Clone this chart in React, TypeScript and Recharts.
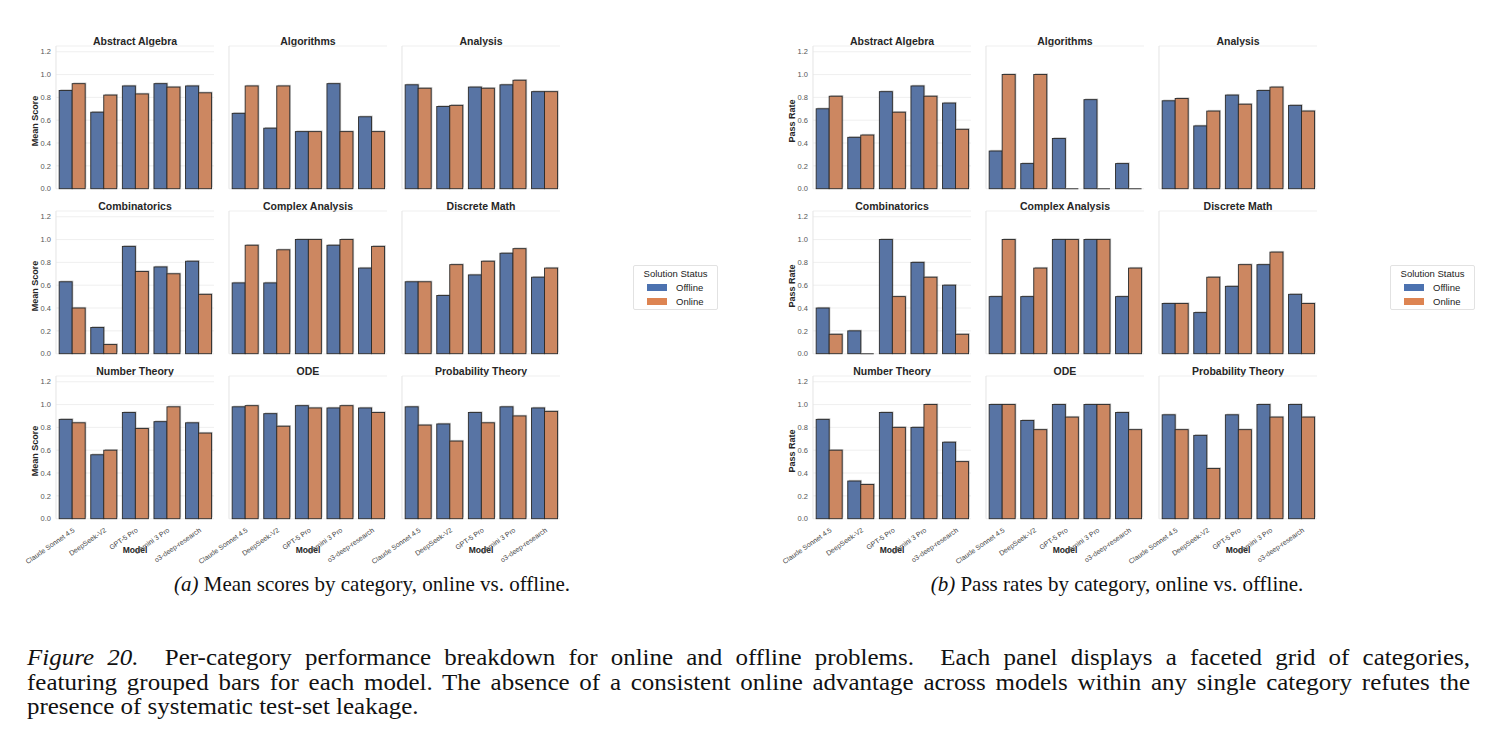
import React from 'react';
import { BarChart, Bar, XAxis, YAxis, CartesianGrid } from 'recharts';

const models = ['Claude Sonnet 4.5', 'DeepSeek-V2', 'GPT-5 Pro', 'Gemini 3 Pro', 'o3-deep-research'];
const categories = [
  'Abstract Algebra', 'Algorithms', 'Analysis',
  'Combinatorics', 'Complex Analysis', 'Discrete Math',
  'Number Theory', 'ODE', 'Probability Theory',
];
const yTicks = [0, 0.2, 0.4, 0.6, 0.8, 1.0, 1.2];

// one row per category, one value per model
const meanOffline = [
  [0.86, 0.67, 0.90, 0.92, 0.90],
  [0.66, 0.53, 0.50, 0.92, 0.63],
  [0.91, 0.72, 0.89, 0.91, 0.85],
  [0.63, 0.23, 0.94, 0.76, 0.81],
  [0.62, 0.62, 1.00, 0.95, 0.75],
  [0.63, 0.51, 0.69, 0.88, 0.67],
  [0.87, 0.56, 0.93, 0.85, 0.84],
  [0.98, 0.92, 0.99, 0.97, 0.97],
  [0.98, 0.83, 0.93, 0.98, 0.97],
];
const meanOnline = [
  [0.92, 0.82, 0.83, 0.89, 0.84],
  [0.90, 0.90, 0.50, 0.50, 0.50],
  [0.88, 0.73, 0.88, 0.95, 0.85],
  [0.40, 0.08, 0.72, 0.70, 0.52],
  [0.95, 0.91, 1.00, 1.00, 0.94],
  [0.63, 0.78, 0.81, 0.92, 0.75],
  [0.84, 0.60, 0.79, 0.98, 0.75],
  [0.99, 0.81, 0.97, 0.99, 0.93],
  [0.82, 0.68, 0.84, 0.90, 0.94],
];
const passOffline = [
  [0.70, 0.45, 0.85, 0.90, 0.75],
  [0.33, 0.22, 0.44, 0.78, 0.22],
  [0.77, 0.55, 0.82, 0.86, 0.73],
  [0.40, 0.20, 1.00, 0.80, 0.60],
  [0.50, 0.50, 1.00, 1.00, 0.50],
  [0.44, 0.36, 0.59, 0.78, 0.52],
  [0.87, 0.33, 0.93, 0.80, 0.67],
  [1.00, 0.86, 1.00, 1.00, 0.93],
  [0.91, 0.73, 0.91, 1.00, 1.00],
];
const passOnline = [
  [0.81, 0.47, 0.67, 0.81, 0.52],
  [1.00, 1.00, 0.00, 0.00, 0.00],
  [0.79, 0.68, 0.74, 0.89, 0.68],
  [0.17, 0.00, 0.50, 0.67, 0.17],
  [1.00, 0.75, 1.00, 1.00, 0.75],
  [0.44, 0.67, 0.78, 0.89, 0.44],
  [0.60, 0.30, 0.80, 1.00, 0.50],
  [1.00, 0.78, 0.89, 1.00, 0.78],
  [0.78, 0.44, 0.78, 0.89, 0.89],
];

const series = [
  { key: 'offline', name: 'Offline', fill: '#5874a4', legend: '#4c72b0' },
  { key: 'online', name: 'Online', fill: '#cc8761', legend: '#dd8452' },
];

const SANS = '"Liberation Sans", Arial, sans-serif';
const SERIF = '"Liberation Serif", "Times New Roman", serif';

// layout
const PLOT_W = 158;
const PLOT_H = (137 / 1.2) * 1.25;
const COL_X = [56, 229, 402];
const ROW_BOTTOM = [189, 354, 519];
const FIG_SHIFT = 757;
const Y_AXIS_W = 30;
const LEFT_ROOM = 56;
const TOP_PAD = 4;
const CAP_STRETCH = 1.04;

const ShadowBar = (props: any) => {
  const { x, y, width, height, fill } = props;
  if (!height || height < 0.5) {
    return <line x1={x} x2={x + width} y1={y} y2={y} stroke="#555" strokeWidth={1.2} />;
  }
  return (
    <g>
      <rect x={x + 1.2} y={y - 1.2} width={width} height={height} fill="#000" fillOpacity={0.22} />
      <rect x={x} y={y} width={width} height={height} fill={fill} stroke="#2a2a2a" strokeWidth={0.9} />
    </g>
  );
};

const ModelTick = (props: any) => {
  const { x, y, payload } = props;
  return (
    <text
      transform={`translate(${x + 1},${y + 1}) rotate(-35)`}
      textAnchor="end"
      dy="0.6em"
      fontSize={7}
      fill="#444"
      fontFamily={SANS}
    >
      {payload.value}
    </text>
  );
};

function Panel({ title, offline, online, col, row, shift, yLabel }: any) {
  const data = models.map((m, i) => ({ model: m, offline: offline[i], online: online[i] }));
  const first = col === 0;
  const bottom = row === 2;
  const yW = first ? Y_AXIS_W : 1;
  const xH = bottom ? 48 : 0;
  const bPad = bottom ? 0 : 8;
  const plotLeft = COL_X[col] + shift;
  const plotTop = ROW_BOTTOM[row] - PLOT_H;
  const width = LEFT_ROOM + PLOT_W + 4;
  const height = TOP_PAD + PLOT_H + xH + bPad;
  return (
    <>
      <div
        style={{
          position: 'absolute', left: plotLeft + PLOT_W / 2 - 100, width: 200, top: ROW_BOTTOM[row] - 155,
          textAlign: 'center', fontFamily: SANS, fontWeight: 700, fontSize: 10.5, color: '#262626', lineHeight: '14px',
        }}
      >
        {title}
      </div>
      {first && (
        <div
          style={{
            position: 'absolute', left: shift + 35 - 50, top: ROW_BOTTOM[row] - 68.5 - 7, width: 100,
            textAlign: 'center', transform: 'rotate(-90deg)', fontFamily: SANS, fontWeight: 700,
            fontSize: 9, color: '#262626', lineHeight: '14px',
          }}
        >
          {yLabel}
        </div>
      )}
      {bottom && (
        <div
          style={{
            position: 'absolute', left: plotLeft + PLOT_W / 2 - 50, width: 100, top: ROW_BOTTOM[row] + 25,
            textAlign: 'center', fontFamily: SANS, fontWeight: 700, fontSize: 8.5, color: '#262626', lineHeight: '12px',
          }}
        >
          Model
        </div>
      )}
      <div style={{ position: 'absolute', left: plotLeft - LEFT_ROOM, top: plotTop - TOP_PAD }}>
        <BarChart
          width={width}
          height={height}
          data={data}
          margin={{ top: TOP_PAD, right: 4, bottom: bPad, left: LEFT_ROOM - yW }}
          barCategoryGap="10%"
          barGap={0}
        >
          <CartesianGrid vertical={false} stroke="#ebebeb" strokeWidth={0.8} />
          <XAxis
            dataKey="model"
            hide={!bottom}
            height={xH}
            interval={0}
            tickLine={false}
            axisLine={false}
            tick={<ModelTick />}
          />
          <YAxis
            width={yW}
            domain={[0, 1.25]}
            ticks={yTicks}
            interval={0}
            tickSize={2}
            tickMargin={3}
            tick={first ? { fontSize: 7.5, fill: '#555', fontFamily: SANS } : false}
            tickFormatter={(v: number) => v.toFixed(1)}
            tickLine={false}
            axisLine={{ stroke: '#e4e4e4' }}
          />
          {series.map((s) => (
            <Bar key={s.key} dataKey={s.key} name={s.name} fill={s.fill} shape={<ShadowBar />} isAnimationActive={false} />
          ))}
        </BarChart>
      </div>
    </>
  );
}

function Legend({ shift }: any) {
  return (
    <div
      style={{
        position: 'absolute', left: 633 + shift, top: 265, width: 85, height: 45, boxSizing: 'border-box',
        border: '1px solid #e2e2e2', borderRadius: 2, background: '#fff', fontFamily: SANS, fontSize: 9.5, color: '#222',
      }}
    >
      <div style={{ textAlign: 'center', marginTop: 1, lineHeight: '13px' }}>Solution Status</div>
      {series.map((s) => (
        <div key={s.key} style={{ display: 'flex', alignItems: 'center', height: 14, paddingLeft: 13 }}>
          <span style={{ display: 'inline-block', width: 20, height: 7, background: s.legend, marginRight: 9 }} />
          <span>{s.name}</span>
        </div>
      ))}
    </div>
  );
}

function Figure({ shift, offline, online, yLabel }: any) {
  return (
    <>
      {categories.map((c, i) => (
        <Panel
          key={c}
          title={c}
          offline={offline[i]}
          online={online[i]}
          col={i % 3}
          row={Math.floor(i / 3)}
          shift={shift}
          yLabel={yLabel}
        />
      ))}
      <Legend shift={shift} />
    </>
  );
}

export default function App() {
  const capStyle: React.CSSProperties = {
    position: 'absolute', top: 572, width: 600, textAlign: 'center', fontFamily: SERIF, fontSize: 21,
    lineHeight: '24px', color: '#111',
  };
  const lineStyle: React.CSSProperties = {
    position: 'absolute', left: 27, width: 1443 / CAP_STRETCH, fontFamily: SERIF, fontSize: 24, lineHeight: '24px',
    color: '#111', textAlign: 'justify', textAlignLast: 'justify', whiteSpace: 'nowrap',
    transform: `scaleX(${CAP_STRETCH})`, transformOrigin: 'left top',
  };
  return (
    <div style={{ position: 'absolute', left: 0, top: 0, width: 1499, height: 751, background: '#fff', overflow: 'hidden' }}>
      <Figure shift={0} offline={meanOffline} online={meanOnline} yLabel="Mean Score" />
      <Figure shift={FIG_SHIFT} offline={passOffline} online={passOnline} yLabel="Pass Rate" />
      <div style={{ ...capStyle, left: 372 - 300 }}>
        <i>(a)</i> Mean scores by category, online vs. offline.
      </div>
      <div style={{ ...capStyle, left: 1117 - 300 }}>
        <i>(b)</i> Pass rates by category, online vs. offline.
      </div>
      <div style={{ ...lineStyle, top: 645 }}>
        <i>Figure 20.</i>&nbsp; Per-category performance breakdown for online and offline problems.&nbsp; Each panel displays a faceted grid of categories,
      </div>
      <div style={{ ...lineStyle, top: 669.5 }}>
        featuring grouped bars for each model. The absence of a consistent online advantage across models within any single category refutes the
      </div>
      <div style={{ ...lineStyle, top: 694, textAlign: 'left', textAlignLast: 'left' }}>
        presence of systematic test-set leakage.
      </div>
    </div>
  );
}
